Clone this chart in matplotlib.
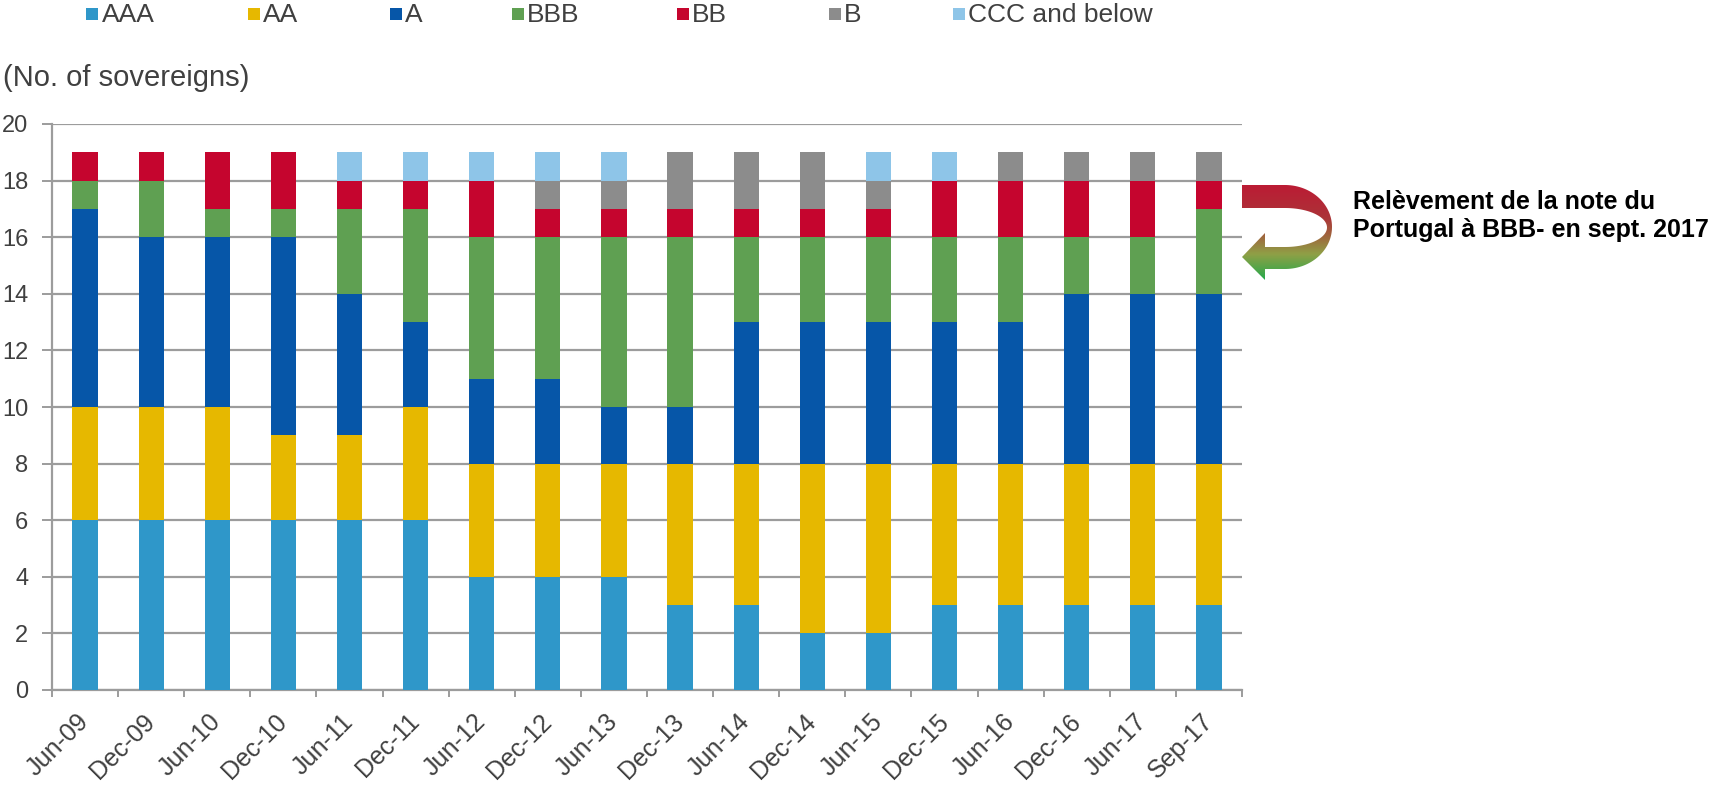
"""Sovereign ratings distribution, stacked bars with a gradient 'upgrade' arrow."""
import matplotlib

matplotlib.use("Agg")
import matplotlib.pyplot as plt
import numpy as np
from matplotlib.colors import LinearSegmentedColormap
from matplotlib.patches import Polygon, Rectangle

plt.rcParams["font.family"] = ["Liberation Sans", "DejaVu Sans"]

dates = ["Jun-09", "Dec-09", "Jun-10", "Dec-10", "Jun-11", "Dec-11", "Jun-12", "Dec-12", "Jun-13",
         "Dec-13", "Jun-14", "Dec-14", "Jun-15", "Dec-15", "Jun-16", "Dec-16", "Jun-17", "Sep-17"]
aaa = [6, 6, 6, 6, 6, 6, 4, 4, 4, 3, 3, 2, 2, 3, 3, 3, 3, 3]
aa = [4, 4, 4, 3, 3, 4, 4, 4, 4, 5, 5, 6, 6, 5, 5, 5, 5, 5]
a = [7, 6, 6, 7, 5, 3, 3, 3, 2, 2, 5, 5, 5, 5, 5, 6, 6, 6]
bbb = [1, 2, 1, 1, 3, 4, 5, 5, 6, 6, 3, 3, 3, 3, 3, 2, 2, 3]
bb = [1, 1, 2, 2, 1, 1, 2, 1, 1, 1, 1, 1, 1, 2, 2, 2, 2, 1]
b = [0, 0, 0, 0, 0, 0, 0, 1, 1, 2, 2, 2, 1, 0, 1, 1, 1, 1]
ccc = [0, 0, 0, 0, 1, 1, 1, 1, 1, 0, 0, 0, 1, 1, 0, 0, 0, 0]

labels = ["AAA", "AA", "A", "BBB", "BB", "B", "CCC and below"]
colors = ["#2F97C9", "#E6B800", "#0656A8", "#5FA052", "#C5052E", "#8C8C8C", "#8EC5E8"]
series = [aaa, aa, a, bbb, bb, b, ccc]

W, H = 1733, 788
TXT = "#404040"
GRID = "#9C9C9C"

fig = plt.figure(figsize=(W / 100, H / 100), dpi=100)
ax = fig.add_axes([52 / W, 1 - 690 / H, (1242 - 52) / W, 566 / H])

x = np.arange(len(dates))
bottom = np.zeros(len(dates))
for vals, col, lab in zip(series, colors, labels):
    ax.bar(x, vals, 0.38, bottom=bottom, color=col, label=lab, zorder=3)
    bottom += np.array(vals)

ax.set_xlim(-0.5, len(dates) - 0.5)
ax.set_ylim(0, 20)
ax.set_yticks(range(0, 21, 2))
ax.yaxis.grid(True, color=GRID, lw=1.6, zorder=0)
ax.set_axisbelow(True)
for s in ("top", "right"):
    ax.spines[s].set_visible(False)
for s in ("left", "bottom"):
    ax.spines[s].set_color(GRID)
    ax.spines[s].set_linewidth(1.6)

ax.set_xticks(x)
ax.set_xticklabels(dates, rotation=45, ha="right", va="center", rotation_mode="anchor",
                   fontsize=18, color=TXT)
ax.tick_params(axis="x", length=0, pad=20)
ax.set_xticks(np.arange(-0.5, len(dates), 1), minor=True)
ax.tick_params(axis="x", which="minor", length=5, color=GRID, width=1.4)
ax.tick_params(axis="y", length=7, color=GRID, width=1.4, pad=10, labelsize=17, labelcolor=TXT)

# overlay in pixel coordinates for legend, unit label and arrow
ov = fig.add_axes([0, 0, 1, 1], zorder=10)
ov.set_xlim(0, W)
ov.set_ylim(H, 0)
ov.axis("off")

leg_x = [92.5, 254, 396, 518, 683, 835, 959]
for lx, col, lab in zip(leg_x, colors, labels):
    ov.add_patch(Rectangle((lx - 6, 8), 12, 12, color=col, lw=0))
    ov.text(lx + 9, 15, lab, fontsize=19, color=TXT, va="center", ha="left")

ov.text(3, 86, "(No. of sovereigns)", fontsize=21, color=TXT, va="baseline", ha="left")

# curved ribbon arrow: outer/inner half-ellipses plus an arrowhead
cx, cy = 1285, 227
t = np.linspace(np.pi / 2, -np.pi / 2, 80)
outer = np.column_stack([cx + 47 * np.cos(t), cy - 42 * np.sin(t)])
inner = np.column_stack([cx + 42 * np.cos(t[::-1]), cy + 0.5 - 19.5 * np.sin(t[::-1])])
outline = np.vstack([
    [[1242, 185]], outer, [[1265, 269], [1265, 280], [1242, 257], [1265, 233], [1265, 247]],
    inner, [[1242, 208]],
])
shape = Polygon(outline, closed=True, facecolor="none", edgecolor="none")
ov.add_patch(shape)
grad = LinearSegmentedColormap.from_list(
    "ribbon", [(0.0, "#BC1A34"), (0.35, "#AC3338"), (0.55, "#9E6A3E"), (0.72, "#8FA046"), (1.0, "#1DAA4C")])
img = ov.imshow(np.linspace(0, 1, 200).reshape(-1, 1), cmap=grad, aspect="auto",
                extent=(1235, 1340, 282, 183), zorder=11)
img.set_clip_path(shape)
ov.set_xlim(0, W)
ov.set_ylim(H, 0)

ov.text(1353, 216, "Relèvement de la note du\nPortugal à BBB- en sept. 2017", fontsize=18,
        fontweight="bold", color="black", va="center", ha="left", linespacing=1.25)

fig.savefig("out.png", dpi=100)
